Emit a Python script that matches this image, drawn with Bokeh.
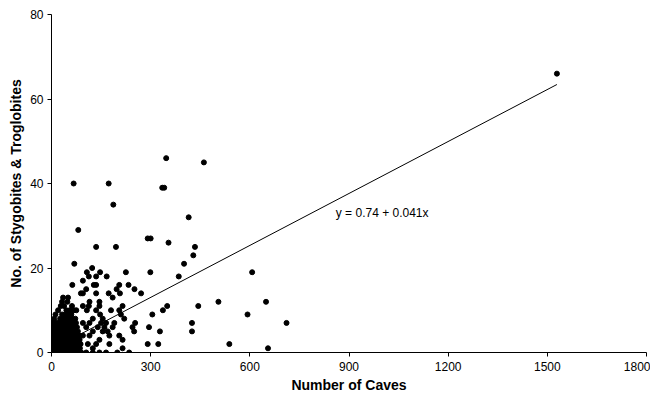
from bokeh.plotting import figure
from bokeh.models import Range1d, FixedTicker, Label
from bokeh.embed import file_html
from bokeh.resources import INLINE

# ---- data ----
# scattered points
outer_x = [67, 173, 335, 341, 187, 81, 415, 291, 300, 354, 135, 195, 434, 429, 401, 69,
           607, 299, 385, 505, 649, 444, 350, 337, 305, 593, 711, 425, 425, 328, 295,
           291, 323, 538, 655, 1529, 347, 461]
outer_y = [40, 40, 39, 39, 35, 29, 32, 27, 27, 26, 25, 25, 25, 23, 21, 21,
           19, 19, 18, 12, 12, 11, 11, 10, 9, 9, 7, 7, 5, 5, 6,
           2, 2, 2, 1, 66, 46, 45]

# moderately dense region
mid_x = [123, 107, 147, 113, 135, 167, 225, 95, 63, 128, 135, 205, 233, 251, 197, 105,
         271, 173, 207, 89, 95, 135, 185, 115, 145, 95, 113, 145, 215, 75, 107, 135,
         180, 205, 147, 210, 125, 155, 220, 95, 115, 165, 190, 253, 105, 140, 185, 245,
         125, 155, 250, 175, 205, 95, 115, 145, 215, 110, 135, 175, 125, 215,
         105, 125, 145, 165, 199, 235, 160, 170, 150]
mid_y = [20, 19, 19, 18, 18, 18, 19, 17, 16, 16, 16, 16, 16, 15, 15, 15,
         14, 14, 14, 14, 14, 14, 13, 12, 12, 11, 11, 11, 11, 10, 10, 10,
         10, 10, 9, 9, 8, 8, 8, 7, 7, 7, 7, 7, 6, 6, 6, 6,
         5, 5, 5, 4, 4, 4, 4, 3, 3, 2, 2, 2, 1, 1,
         0, 0, 0, 0, 0, 0, 6, 5, 7]

# dense core near the origin
core_x = [2, 8, 15, 22, 30, 37, 45, 52, 60, 68, 75, 82, 90,
          3, 10, 17, 25, 32, 40, 48, 55, 63, 70, 78, 86,
          1, 6, 13, 20, 28, 35, 43, 50, 58, 65, 73, 81, 88,
          4, 11, 18, 26, 33, 41, 49, 56, 64, 71, 79, 85,
          2, 9, 16, 23, 31, 38, 46, 53, 61, 69, 76, 84,
          5, 12, 19, 27, 34, 42, 50, 57, 65, 72, 80,
          3, 10, 17, 24, 32, 39, 47, 54, 62, 70, 77,
          6, 14, 21, 29, 36, 44, 51, 59, 66, 74,
          8, 26, 35, 45, 54, 62, 72,
          12, 32, 42, 50, 60,
          20, 45, 55, 68,
          28, 38, 62,
          32, 48,
          35, 50]
core_y = [0, 0, 0, 0, 0, 0, 0, 0, 0, 0, 0, 0, 0,
          1, 1, 1, 1, 1, 1, 1, 1, 1, 1, 1, 1,
          2, 2, 2, 2, 2, 2, 2, 2, 2, 2, 2, 2, 2,
          3, 3, 3, 3, 3, 3, 3, 3, 3, 3, 3, 3,
          4, 4, 4, 4, 4, 4, 4, 4, 4, 4, 4, 4,
          5, 5, 5, 5, 5, 5, 5, 5, 5, 5, 5,
          6, 6, 6, 6, 6, 6, 6, 6, 6, 6, 6,
          7, 7, 7, 7, 7, 7, 7, 7, 7, 7,
          8, 8, 8, 8, 8, 8, 8,
          9, 9, 9, 9, 9,
          10, 10, 10, 10,
          11, 11, 11,
          12, 12,
          13, 13]

intercept = 0.74
slope = 0.041
equation = "y = 0.74 + 0.041x"

x_ticks = [0, 300, 600, 900, 1200, 1500, 1800]
y_ticks = [0, 20, 40, 60, 80]
x_title = "Number of Caves"
y_title = "No. of Stygobites & Troglobites"

all_x = outer_x + mid_x + core_x
all_y = outer_y + mid_y + core_y

FONT = "Liberation Sans"

p = figure(width=650, height=395, output_backend="svg", toolbar_location=None,
           x_range=Range1d(0, 1800), y_range=Range1d(0, 80),
           min_border_left=51, min_border_right=4, min_border_top=14,
           min_border_bottom=43)
p.outline_line_color = None
p.grid.visible = False
p.background_fill_color = "white"

p.xaxis.ticker = FixedTicker(ticks=x_ticks)
p.yaxis.ticker = FixedTicker(ticks=y_ticks)
for ax in (p.xaxis, p.yaxis):
    ax.minor_tick_line_color = None
    ax.major_tick_out = 4
    ax.major_tick_in = 0
    ax.axis_line_color = "black"
    ax.major_tick_line_color = "black"
    ax.major_label_text_font = FONT
    ax.major_label_text_font_size = "12px"
    ax.major_label_text_color = "black"
    ax.axis_label_text_font = FONT
    ax.axis_label_text_font_size = "14px"
    ax.axis_label_text_font_style = "bold"
    ax.axis_label_text_color = "black"
p.xaxis.major_label_standoff = 5
p.yaxis.major_label_standoff = 4
p.xaxis.axis_label = x_title
p.yaxis.axis_label = y_title
p.xaxis.axis_label_standoff = 3
p.yaxis.axis_label_standoff = 3

# regression line
lx = [min(all_x), max(all_x)]
ly = [intercept + slope * v for v in lx]
p.line(lx, ly, line_color="black", line_width=1)

p.scatter(all_x, all_y, size=5, color="black")

p.add_layout(Label(x=860, y=33, text=equation, text_font=FONT,
                   text_font_size="12px", text_baseline="middle",
                   text_align="left", text_color="black"))

open("out.html", "w").write(file_html(p, INLINE))
